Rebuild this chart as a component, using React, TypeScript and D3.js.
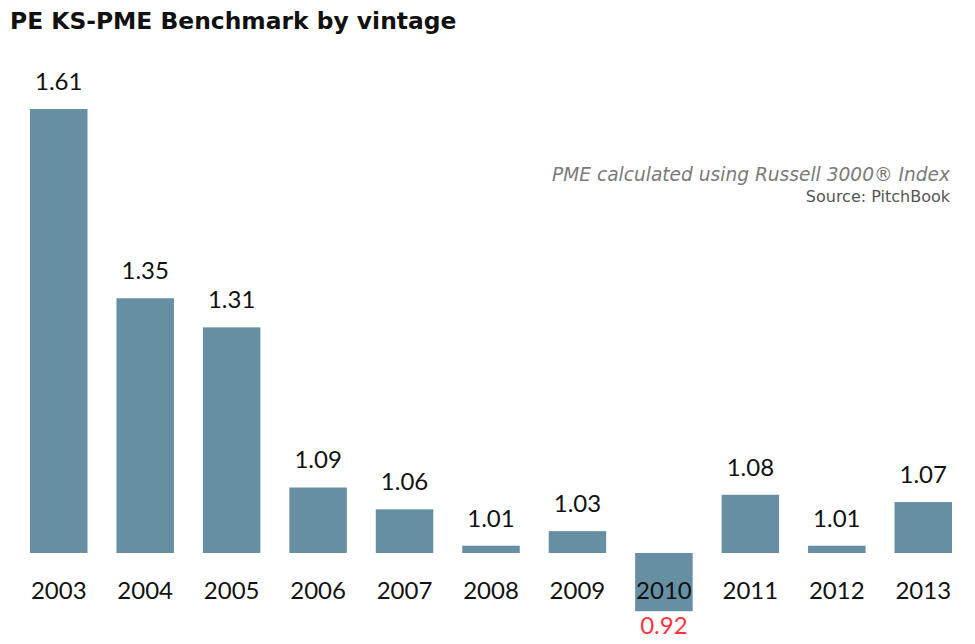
import React from "react";
import * as d3 from "d3";

const years = ["2003", "2004", "2005", "2006", "2007", "2008", "2009", "2010", "2011", "2012", "2013"];
const values = [1.61, 1.35, 1.31, 1.09, 1.06, 1.01, 1.03, 0.92, 1.08, 1.01, 1.07];
const title = "PE KS-PME Benchmark by vintage";
const note = "PME calculated using Russell 3000® Index";
const source = "Source: PitchBook";

const W = 975;
const H = 644;
const BASE = 1;

export default function App() {
  const x = d3.scaleBand<string>().domain(years).range([30, 952]).paddingInner(0.335).paddingOuter(0);
  const y = d3.scaleLinear().domain([BASE, 1.61]).range([553, 109]);
  const font = "Lato, 'Open Sans', sans-serif";
  const headFont = "'DejaVu Sans', 'Open Sans', sans-serif";
  return (
    <svg width={W} height={H} style={{ position: "absolute", left: 0, top: 0, background: "#fff" }}>
      <text x={10} y={29} fontFamily={headFont} fontWeight={600} fontSize={23.4} fill="#111">
        {title}
      </text>
      <text x={950} y={181} textAnchor="end" fontFamily={headFont} fontStyle="italic" fontSize={18.6} fill="#7a7a7a">
        {note}
      </text>
      <text x={950} y={201.5} textAnchor="end" fontFamily={headFont} fontSize={16} fill="#555">
        {source}
      </text>
      {years.map((yr, i) => {
        const v = values[i];
        const x0 = x(yr)!;
        const bw = x.bandwidth();
        const top = Math.min(y(v), y(BASE));
        const h = Math.abs(y(v) - y(BASE));
        const cx = x0 + bw / 2;
        const neg = v < BASE;
        return (
          <g key={yr}>
            <rect x={x0} y={top} width={bw} height={h} fill="#668fa3" />
            <text x={cx} y={599} textAnchor="middle" fontFamily={font} fontSize={24} fill="#111">
              {yr}
            </text>
            <text
              x={cx}
              y={neg ? y(v) + 23 : y(v) - 19}
              textAnchor="middle"
              fontFamily={font}
              fontSize={24}
              fill={neg ? "#ff3340" : "#111"}
            >
              {v.toFixed(2)}
            </text>
          </g>
        );
      })}
    </svg>
  );
}
